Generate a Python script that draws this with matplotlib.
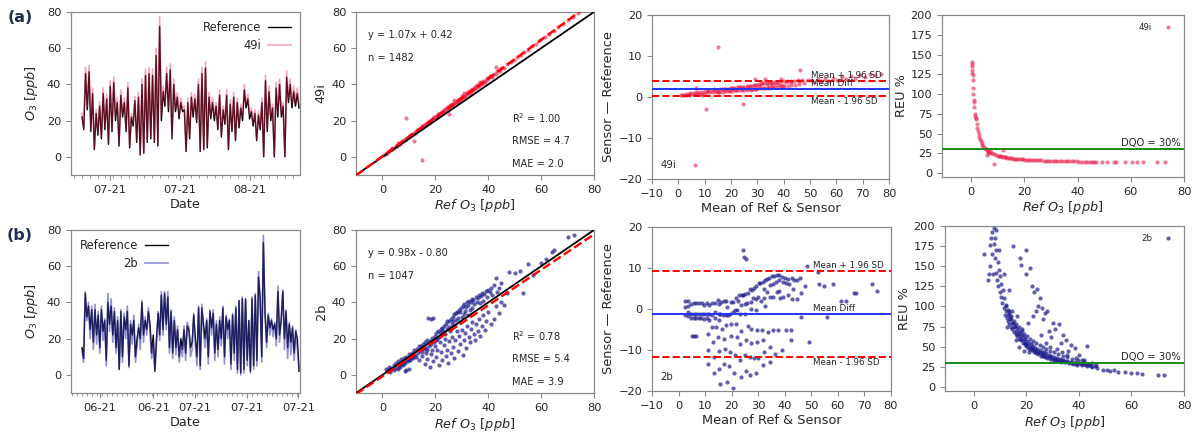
import numpy as np
import matplotlib
matplotlib.use("Agg")
import matplotlib.pyplot as plt
from matplotlib.ticker import MultipleLocator

plt.rcParams['font.family'] = ['DejaVu Sans']

# ---------------- DATA ----------------
# time series (a): Reference vs 49i, two samples per day
ts_a_ref = [22, 15, 46, 26, 47, 14, 35, 4, 24, 12,
            28, 10, 35, 15, 32, 7, 39, 14, 41, 20,
            30, 6, 34, 22, 30, 14, 38, 5, 22, 17,
            31, 8, 33, 1, 40, 2, 45, 8, 46, 10,
            45, 8, 56, 6, 72, 20, 36, 28, 46, 25,
            48, 10, 40, 25, 33, 21, 30, 25, 26, 3,
            30, 10, 33, 22, 32, 19, 40, 3, 46, 4,
            49, 5, 33, 21, 30, 20, 28, 15, 34, 11,
            26, 18, 34, 4, 29, 14, 33, 9, 30, 16,
            27, 20, 37, 27, 32, 21, 25, 17, 24, 9,
            23, 15, 30, 0, 42, 14, 36, 20, 27, 0,
            38, 22, 40, 22, 28, 0, 44, 30, 40, 27,
            36, 28, 35, 27]
ts_a_sens = [24, 16.5, 49.5, 28, 50.5, 15.5, 38, 4.5, 26, 13,
             30.5, 11, 38, 16.5, 34.5, 8, 42, 15.5, 44, 22,
             32.5, 7, 37, 24, 32.5, 15, 41, 6, 24, 18.5,
             33.5, 9, 35.5, 1.5, 43, 2.5, 48.5, 9, 49.5, 11,
             48.5, 9, 60, 7, 77.5, 22, 39, 30, 49.5, 27,
             51.5, 11, 43, 27, 35.5, 23, 32.5, 27, 28, 3.5,
             32.5, 11, 35.5, 24, 34.5, 20.5, 43, 3.5, 49.5, 4.5,
             52.5, 6, 35.5, 23, 32.5, 22, 30, 16.5, 37, 12,
             28, 19.5, 37, 4.5, 31.5, 15.5, 35.5, 10, 32.5, 17.5,
             29, 22, 40, 29, 34.5, 23, 27, 18.5, 26, 10,
             25, 16.5, 32.5, 0.5, 45, 15.5, 39, 22, 29, 0.5,
             41, 24, 43, 24, 30, 0.5, 47.5, 32.5, 43, 29,
             39, 30, 38, 29]
ts_a_ticklabels = ["07-21", "07-21", "08-21"]

# time series (b): Reference vs 2b
ts_b_ref = [15, 9, 45, 32, 38, 25, 36, 18, 36, 22,
            33, 15, 36, 24, 30, 8, 40, 28, 38, 22,
            35, 15, 30, 3, 35, 10, 32, 25, 35, 5,
            28, 22, 30, 10, 20, 26, 20, 40, 22, 30,
            25, 35, 28, 12, 22, 2, 20, 34, 22, 44,
            25, 45, 28, 43, 15, 35, 12, 30, 15, 25,
            10, 20, 14, 25, 12, 27,
            25, 15, 18, 33, 20, 10, 37, 5, 37, 28,
            20, 30, 10, 35, 26, 34, 12, 28, 14, 30,
            20, 37, 10, 32, 25, 30, 6, 33, 12, 37,
            3, 41, 1, 42, 3, 42, 8, 30, 2, 42,
            5, 44, 8, 54, 42, 10, 73, 35, 18, 33,
            26, 30, 25, 28, 20, 46, 22, 30, 46, 20,
            35, 15, 28, 18, 26, 12, 24, 20, 2]
ts_b_sens = [13, 7, 46, 30, 40, 20, 38, 14, 39, 17,
             35, 12, 38, 19, 31, 5, 45, 24, 42, 18,
             37, 12, 32, 3, 36, 7, 34, 20, 38, 4,
             30, 17, 33, 7, 16, 28, 14, 41, 18, 32,
             22, 37, 24, 9, 18, 2, 17, 35, 19, 46,
             22, 46, 25, 46, 12, 36, 9, 32, 11, 27,
             7, 17, 10, 27, 8, 29,
             26, 10, 14, 34, 16, 5, 38, 3, 39, 24,
             15, 31, 6, 36, 22, 36, 8, 30, 10, 32,
             16, 38, 6, 33, 20, 31, 3, 34, 8, 38,
             1, 41, 0, 43, 1, 42, 5, 30, 1, 43,
             3, 45, 5, 57, 43, 7, 77, 34, 15, 34,
             22, 31, 21, 29, 16, 49, 18, 31, 47, 14,
             36, 9, 29, 11, 27, 8, 25, 14, 4]
ts_b_ticklabels = ["06-21", "06-21", "07-21", "07-21", "07-21"]

# scatter (a): reference vs 49i
sc_a_ref = [0.6, 1.2, 1.9, 2.4, 3.1, 3.8, 4.3, 5.0, 5.5, 6.2, 6.8, 7.3, 7.9, 8.4, 9.0, 9.6,
            10.1, 10.7, 11.2, 11.8, 12.3, 12.9, 13.4, 13.8, 14.3, 14.9, 15.3, 15.8, 16.2,
            16.7, 17.1, 17.6, 18.0, 18.4, 18.9, 19.3, 19.8, 20.2, 20.6, 21.1, 21.5, 21.9,
            22.4, 22.8, 23.2, 23.7, 24.1, 24.6, 25.0, 25.5, 25.9, 26.4, 26.8, 27.3, 27.7,
            28.2, 28.6, 29.1, 29.6, 30.0, 30.5, 31.0, 31.4, 31.9, 32.4, 32.9, 33.3, 33.8,
            34.3, 34.9, 35.4, 35.9, 36.5, 37.0, 37.6, 38.2, 38.8, 39.4, 40.1, 40.7, 41.4,
            42.0, 42.8, 43.5, 44.3, 45.0, 46.0, 47.2, 48.5, 49.8, 51.0, 52.3, 53.5, 55.0,
            56.4, 58.0, 59.7, 61.5, 63.0, 64.8, 66.5, 68.2, 70.0, 72.0, 74.0,
            10.4, 12.6, 14.6, 16.4, 18.2, 19.6, 20.9, 22.1, 23.4, 24.8, 25.7, 26.6, 27.5,
            28.4, 29.3, 30.2, 31.2, 32.1, 33.0, 33.6, 34.6, 35.1, 36.2, 37.3, 38.5, 39.0,
            41.0, 44.0, 5.8, 6.5, 3.5, 8.7, 25.3, 9.0, 12.0, 14.8, 43.0, 27.0, 30.8, 36.8]
sc_a_sens = [1.1, 1.8, 2.3, 3.1, 3.6, 4.7, 4.9, 6.0, 6.2, 7.3, 7.5, 8.5, 8.7, 9.7, 9.8, 11.0,
             11.1, 12.2, 12.3, 13.4, 13.4, 14.6, 14.6, 15.5, 15.6, 16.8, 16.6, 17.7, 17.5,
             18.6, 18.5, 19.6, 19.5, 20.5, 20.4, 21.5, 21.3, 22.4, 22.2, 23.5, 23.2, 24.3,
             24.1, 25.3, 24.9, 26.2, 25.9, 27.3, 26.8, 28.2, 27.8, 29.2, 28.8, 30.2, 29.7,
             31.1, 30.6, 32.2, 31.7, 33.1, 32.6, 34.3, 33.6, 35.2, 34.7, 36.4, 35.6, 37.3,
             36.7, 38.5, 37.8, 39.6, 39.0, 40.8, 40.2, 42.0, 41.5, 43.3, 42.9, 44.7, 44.3,
             46.0, 45.8, 47.6, 47.4, 49.2, 49.3, 51.3, 52.6, 53.4, 55.3, 56.1, 58.0, 59.0,
             61.0, 62.2, 64.6, 66.0, 68.1, 69.5, 71.8, 73.2, 75.6, 77.3, 79.7,
             11.9, 14.5, 15.9, 18.3, 20.0, 21.9, 22.6, 24.5, 25.7, 27.0, 28.5, 28.4, 30.4,
             30.3, 31.9, 33.5, 33.5, 35.3, 35.5, 36.9, 37.4, 38.6, 39.3, 40.3, 41.2, 42.6,
             44.6, 47.9, 7.9, 7.2, 4.3, 9.2, 23.5, 21.3, 9.0, -1.8, 49.5, 31.5, 35.2, 41.1]
fit_a = (1.07, 0.42)
stats_a = ["y = 1.07x + 0.42", "n = 1482", "R$^2$ = 1.00", "RMSE = 4.7", "MAE = 2.0"]

# scatter (b): reference vs 2b
sc_b_ref = [1.5, 2, 2.5, 3, 3.2, 3.8, 4.2, 4.5, 5, 5.3, 5.8, 6, 6.3, 6.8, 7, 7.3, 7.8, 8, 8.2,
            8.6, 9, 9.3, 9.7, 10, 10.3, 10.6, 11, 11.3, 11.7, 12, 12.3, 12.6, 9, 10, 8.5,
            13, 13.4, 13.8, 14.2, 14.5, 14.9, 15.2, 15.6, 16, 16.3, 16.7, 17, 17.2, 17.5,
            17.9, 18.2, 18.5, 18.8, 19.2, 19.5,
            19.8, 20.1, 20.4, 20.7, 21, 21.3, 21.6, 22, 22.3, 22.6, 23, 23.3, 23.6, 24, 24.3,
            24.6, 25, 25.3, 25.6, 25.9,
            26.2, 26.5, 26.8, 27.1, 27.4, 27.7, 28, 28.3, 28.6, 28.9, 29.2, 29.5, 29.8, 30.1,
            30.4, 30.7, 31, 31.3, 31.6, 31.9,
            32.2, 32.5, 32.8, 33.1, 33.4, 33.7, 34, 34.4, 34.8, 35.2, 35.6, 36, 36.4, 36.8,
            37.2, 37.6, 38, 38.5, 39, 39.5, 40, 40.5, 41, 41.5, 42, 43, 43.5, 44,
            14, 15, 16, 16.5, 17, 17.8, 18.3, 18.8, 19.3, 19.8, 20.3, 20.8, 21.2, 21.7, 22.2,
            22.7, 23.1, 23.6, 24, 24.4, 24.9, 25.3, 25.8, 26.3, 26.7, 27.2, 27.6, 28.1, 28.5,
            29, 29.4, 29.9, 30.3, 30.8, 31.2, 31.7, 32.1, 32.6, 33, 33.5, 34, 34.5, 35, 35.5,
            36, 36.5, 37, 37.5, 38, 38.6, 39.2, 40, 41, 42, 43, 44, 45, 46,
            45, 47, 48, 50, 52, 53, 55, 57, 60, 62, 64, 65, 70, 72.5]
sc_b_sens = [3.5, 2.5, 4.5, 1.5, 4.0, 3.0, 5.5, 2.8, 6.5, 4.0, 3.5, 7.5, 5.0, 4.5, 8.5, 6.0,
             5.5, 9.5, 7.0, 6.5, 10.0, 8.0, 7.5, 11.5, 9.0, 8.2, 12.0, 10.0, 9.5, 13.5, 11.0,
             10.0, 2.5, 3.5, 2.0,
             14.5, 12.0, 16.0, 13.5, 15.8, 12.8, 17.0, 14.5, 18.0, 15.0, 14.0, 19.0, 31.5,
             16.0, 18.5, 31.0, 17.0, 20.5, 31.5, 18.0,
             21.5, 19.0, 23.0, 20.0, 24.5, 21.0, 23.5, 25.5, 22.0, 26.0, 24.0, 27.0, 22.5,
             28.0, 25.5, 29.5, 26.5, 30.0, 24.5, 31.0,
             28.0, 32.0, 29.5, 33.5, 27.5, 34.0, 30.5, 35.0, 31.5, 36.0, 29.0, 34.5, 37.0,
             32.0, 38.0, 33.5, 39.0, 35.5, 37.5, 40.0,
             33.0, 38.5, 41.0, 36.0, 40.0, 42.0, 37.0, 41.5, 39.0, 43.0, 40.0, 42.5, 44.0,
             39.5, 43.5, 45.0, 41.0, 44.5, 46.5, 43.0, 47.0, 45.5, 48.0, 44.0, 49.5, 53.5,
             46.0, 48.0,
             8.0, 10.5, 6.0, 12.0, 9.0, 4.5, 11.5, 14.0, 7.5, 16.0, 10.0, 13.5, 5.5, 18.0,
             12.5, 8.0, 16.5, 20.0, 10.5, 14.0, 6.5, 18.5, 12.0, 21.0, 15.5, 9.5, 19.0, 24.0,
             13.0, 21.5, 17.0, 25.0, 11.0, 19.5, 23.0, 15.0, 27.0, 21.0, 18.0, 25.5, 29.0,
             22.5, 19.0, 28.0, 24.0, 31.0, 21.5, 27.0, 33.0, 25.0, 30.0, 35.0, 28.0, 31.0,
             38.0, 34.0, 40.0, 38.5,
             50.5, 45.0, 57.0, 56.0, 57.5, 45.0, 61.0, 55.0, 62.0, 64.0, 68.0, 69.0, 76.0, 77.0]
fit_b = (0.98, -0.80)
stats_b = ["y = 0.98x - 0.80", "n = 1047", "R$^2$ = 0.78", "RMSE = 5.4", "MAE = 3.9"]

# Bland-Altman limits: lower (mean-1.96SD), mean diff, upper (mean+1.96SD)
ba_a_limits = [0.3, 2.0, 3.9]
ba_b_limits = [-11.6, -1.2, 9.3]

# REU (a)
reu_a_ref = [0.2, 0.3, 0.3, 0.4, 0.4, 0.5, 0.6, 0.7, 0.8, 0.9, 1.0, 1.2, 1.4, 1.5, 1.7, 1.9,
             2.1, 2.3, 2.5, 2.8, 3.0, 3.3, 3.6, 3.9, 4.2, 4.6, 5.0, 5.4, 5.8, 6.3, 6.8, 7.3,
             7.9, 8.5, 9.2, 10.0, 10.8, 11.7, 12.6, 13.6, 14.7, 15.8, 17.0, 18.3, 19.6, 21.0,
             22.5, 24.0, 25.6, 27.2, 28.9, 30.6, 32.4, 34.2, 36.0, 37.9, 39.8, 41.7, 43.6,
             45.5, 47.0, 49.0, 51.0, 53.5, 54.5, 58.0, 60.5, 62.5, 64.5, 69.8, 72.7,
             8.6, 12.0, 5.8, 7.0, 6.2,
             10.4, 11.2, 12.2, 13.1, 14.1, 15.2, 16.4, 17.6, 18.9, 20.3, 21.7, 23.2, 24.8,
             26.4, 28.0, 29.7, 31.5, 33.3, 35.1, 36.9, 38.8, 40.7, 42.6, 44.5, 46.2]
reu_a_val = [140, 138, 136, 130, 127, 124, 118, 108, 100, 93, 90, 84, 75, 72, 70, 68,
             62, 57, 53, 49, 46, 43, 40, 38, 36, 34, 32, 30.5, 29, 28, 27, 26,
             25, 24, 23, 22, 21.3, 20.6, 20, 19.4, 18.9, 18.4, 18, 17.6, 17.2, 16.9,
             16.6, 16.3, 16.0, 15.8, 15.6, 15.4, 15.2, 15.1, 14.9, 14.8, 14.7, 14.6, 14.5,
             14.4, 14.3, 14.3, 14.2, 14.2, 14.1, 14.1, 14.0, 14.0, 14.0, 13.9, 13.9,
             11, 29, 23, 28, 26,
             21.8, 21.0, 20.2, 19.8, 19.1, 18.7, 18.2, 17.9, 17.5, 17.0, 16.8, 16.4, 16.2,
             15.9, 15.8, 15.5, 15.3, 15.2, 15.0, 14.9, 14.8, 14.6, 14.5, 14.5, 14.3]

# REU (b)
reu_b_ref = [5.5, 5.8, 6, 6.2, 6.5, 6.8, 7, 7.2, 7.5, 7.8, 8, 8, 8.3, 8.5, 8.8, 9, 9.2, 9.5,
             9.8, 10, 10.3, 10.5, 10.8, 11, 11.3, 11.6, 12, 12.2, 12.5, 12.8, 13, 13.2, 13.5,
             13.8, 14, 14.3, 14.6, 15, 15.3, 15.6, 16, 16.3, 16.6, 17, 17.3, 17.6, 18, 18.3,
             18.6, 19, 19.3, 19.6, 20, 20.3, 20.7, 21, 21.4, 21.8, 22.2, 22.6, 23, 23.4, 23.8,
             24.2, 24.6, 25, 25.4, 25.8, 26.2, 26.6, 27, 27.5, 28, 28.5, 29, 29.5, 30, 30.5,
             31, 31.5, 32, 32.7, 33.3, 34, 34.7, 35.5, 36.2, 37, 37.8, 38.6, 39.4, 40.2, 41,
             42, 43, 44, 45, 46, 47,
             49, 50.5, 52, 53.5, 55, 57.5, 60, 62, 64, 70, 72.5,
             4, 15, 17.5, 18, 19.8, 20, 21.3, 22, 23, 24, 24.5, 25, 26, 27, 28, 22.5, 23.5,
             26.5, 30, 31, 32.5, 34, 35, 37, 38.5, 43, 28.5, 29.5, 33, 36, 40, 45, 42, 16,
             17, 19, 21, 22, 18.5, 20.5, 25.5, 27.5, 29, 31.5, 33.5, 35.5, 39, 41, 44, 46.5,
             12.5, 14.5, 16.5, 13.5, 11.5, 9.5, 8.5,
             12.1, 12.9, 13.6, 14.4, 15.1, 15.9, 16.7, 17.4, 18.1, 18.9, 19.7, 20.4, 21.2,
             22, 22.8, 23.6, 24.4, 25.2, 26, 26.8, 27.8, 28.8, 29.8, 30.8, 31.8, 33, 34.3,
             35.8, 37.3, 39, 40.7, 42.5, 44.5,
             12.4, 13.3, 14.1, 15.4, 16.2, 17.2, 18.2, 19.2, 20.2, 21.5, 22.6, 23.8, 25,
             26.3, 27.6, 29, 30.5, 32, 33.8, 35.5, 37.5, 39.8, 42]
reu_b_val = [133, 140, 176, 150, 185, 165, 192, 140, 178, 198, 160, 185, 142, 170, 133, 155,
             125, 145, 118, 138, 112, 128, 104, 120, 98, 110, 90, 102, 86, 96, 82, 92, 78,
             88, 74, 84, 72, 80, 68, 76, 66, 73, 63, 70, 60, 67, 58, 64, 55, 62, 53, 59, 51,
             57, 49, 55, 47, 53, 46, 51, 44, 49, 42, 47, 41, 46, 39, 44, 38, 43, 37, 42, 36,
             40, 35, 39, 34, 37, 33, 36, 32.5, 35, 31.5, 33.5, 30.5, 32.5, 29.5, 31.5, 28.5,
             30.5, 27.5, 29.5, 27, 28.5, 26, 27, 24.5, 26, 23,
             20.5, 20.5, 20, 21, 19, 18, 17.5, 17, 16.5, 15.5, 15.2,
             165, 175, 160, 152, 170, 140, 148, 125, 118, 122, 100, 110, 98, 92, 95, 88, 95,
             85, 80, 72, 78, 65, 58, 52, 48, 51, 70, 62, 55, 45, 40, 30, 34, 58, 50, 45, 43,
             48, 72, 80, 65, 55, 50, 47, 44, 40, 36, 33, 29, 27.5,
             75, 95, 88, 120, 140, 170, 195,
             95, 89, 84, 79, 74, 70, 66, 63, 60, 57, 54, 52, 50, 48.5, 46.5, 45, 43.5, 42,
             40.5, 39.5, 38.5, 37, 36, 35, 34, 33, 32, 31, 30, 29, 28, 27, 26,
             100, 95, 88, 82, 78, 74, 70, 66, 63, 60, 57, 55, 52, 50, 47, 45, 43, 41, 39, 37,
             35, 33, 31]
dqo_level = 30

# ---------------- STYLE ----------------
W, H = 1201, 436
fig = plt.figure(figsize=(W / 100, H / 100), dpi=100)

SPINE = '#8a8a8a'
TXT = '#262626'
TICK_FS = 8.2
LAB_FS = 9.3
RED = '#e8234f'
NAVY = '#1c1c8c'
MS = 9


def box(l, r, t, b):
    return fig.add_axes([l / W, 1 - b / H, (r - l) / W, (b - t) / H])


def style(ax):
    for s in ax.spines.values():
        s.set_color(SPINE)
        s.set_linewidth(0.9)
    ax.tick_params(colors=SPINE, labelcolor=TXT, labelsize=TICK_FS, length=3.5, width=0.8)
    ax.tick_params(which='minor', colors=SPINE, length=2, width=0.6)


def ts_panel(ax, ref, sens, name, color, alpha, ticks_px, labels, minor_px, legloc):
    ref = np.asarray(ref, float)
    sens = np.asarray(sens, float)
    idx = np.arange(len(ref))
    # map pixels of original layout (data from 82 px to 299 px) into sample index
    per = 217.0 / (len(ref) - 1)
    ax.plot(idx, ref, color='black', lw=1.0, label='Reference', zorder=2)
    ax.plot(idx, sens, color=color, alpha=alpha, lw=1.2, label=name, zorder=3)
    ax.set_xlim((71 - 82) / per, (300 - 82) / per)
    ax.set_ylim(-10, 80)
    ax.set_yticks([0, 20, 40, 60, 80])
    ax.set_xticks([(p - 82) / per for p in ticks_px])
    ax.set_xticklabels(labels)
    ax.xaxis.set_minor_locator(MultipleLocator(minor_px / per))
    ax.set_xlabel('Date', fontsize=LAB_FS, color=TXT, labelpad=2)
    ax.set_ylabel(r'$O_3$ [$ppb$]', fontsize=LAB_FS, color=TXT, labelpad=5)
    style(ax)
    leg = ax.legend(loc=legloc, frameon=False, markerfirst=False, fontsize=8.3,
                    handlelength=2.0, handletextpad=0.6, labelspacing=0.45,
                    borderaxespad=0.35)
    for t in leg.get_texts():
        t.set_color(TXT)


def sc_panel(ax, x, y, fit, stats, name, color, alpha):
    ax.scatter(x, y, s=MS, color=color, alpha=alpha, lw=0, zorder=2)
    xs = np.array([-10, 80])
    ax.plot(xs, xs, color='black', lw=1.3, zorder=3)
    ax.plot(xs, fit[0] * xs + fit[1], color='red', lw=1.7, ls='--', zorder=4)
    ax.set_xlim(-10, 80)
    ax.set_ylim(-10, 80)
    ax.set_xticks([0, 20, 40, 60, 80])
    ax.set_yticks([0, 20, 40, 60, 80])
    ax.set_xlabel(r'$Ref\ O_3$ [$ppb$]', fontsize=LAB_FS, color=TXT, labelpad=2)
    ax.set_ylabel(name, fontsize=LAB_FS, color=TXT, labelpad=3)
    kw = dict(transform=ax.transAxes, fontsize=7.1, color=TXT, va='center', ha='left')
    ax.text(0.05, 0.86, stats[0], **kw)
    ax.text(0.05, 0.72, stats[1], **kw)
    ax.text(0.655, 0.35, stats[2], **kw)
    ax.text(0.655, 0.21, stats[3], **kw)
    ax.text(0.655, 0.07, stats[4], **kw)
    style(ax)


def ba_panel(ax, x, y, limits, name, color, alpha):
    x = np.asarray(x, float)
    y = np.asarray(y, float)
    mean = (x + y) / 2
    diff = y - x
    ax.scatter(mean, diff, s=MS, color=color, alpha=alpha, lw=0, zorder=2)
    lo, md, hi = limits
    ax.axhline(hi, color='red', ls='--', lw=1.4, zorder=3)
    ax.axhline(md, color='#2233ff', lw=1.4, zorder=3)
    ax.axhline(lo, color='red', ls='--', lw=1.4, zorder=3)
    kw = dict(fontsize=6.3, color=TXT, ha='left')
    ax.text(50.5, hi + 0.3, 'Mean + 1.96 SD', va='bottom', **kw)
    ax.text(50.5, md + 0.3, 'Mean Diff', va='bottom', **kw)
    ax.text(50.5, lo - 0.3, 'Mean - 1.96 SD', va='top', **kw)
    ax.text(-6.8, -16.5, name, fontsize=7.3, color=TXT, va='center', ha='left')
    ax.set_xlim(-10, 80)
    ax.set_ylim(-20, 20)
    ax.set_xticks(np.arange(-10, 81, 10))
    ax.set_yticks([-20, -10, 0, 10, 20])
    ax.set_xlabel('Mean of Ref & Sensor', fontsize=LAB_FS, color=TXT, labelpad=2)
    ax.set_ylabel('Sensor \u2014 Reference', fontsize=LAB_FS, color=TXT, labelpad=2)
    style(ax)


def reu_panel(ax, x, y, name, color, alpha):
    ax.scatter(x, y, s=MS, color=color, alpha=alpha, lw=0, zorder=2, label=name)
    ax.axhline(dqo_level, color='#1a8a1a', lw=1.4, zorder=3)
    ax.text(0.985, (dqo_level + 1.5 + 5) / 205, 'DQO = 30%', transform=ax.transAxes,
            fontsize=7.2, color=TXT, ha='right', va='bottom')
    ax.set_xlim(-11, 80)
    ax.set_ylim(-5, 200)
    ax.set_xticks([0, 20, 40, 60, 80])
    ax.set_yticks(np.arange(0, 201, 25))
    ax.set_xlabel(r'$Ref\ O_3$ [$ppb$]', fontsize=LAB_FS, color=TXT, labelpad=2)
    ax.set_ylabel('REU %', fontsize=LAB_FS, color=TXT, labelpad=2)
    style(ax)
    leg = ax.legend(loc='upper right', frameon=False, markerfirst=False, fontsize=6.2,
                    handletextpad=0.8, borderaxespad=0.5, markerscale=1.0)
    for t in leg.get_texts():
        t.set_color(TXT)


# ---------------- ROW (a) ----------------
ax = box(71, 300, 12, 175)
ts_panel(ax, ts_a_ref, ts_a_sens, '49i', RED, 0.4, [110, 180, 250], ts_a_ticklabels,
         7.8, 'upper right')
ax = box(356, 594, 12, 175)
sc_panel(ax, sc_a_ref, sc_a_sens, fit_a, stats_a, '49i', RED, 0.6)
ax = box(652, 889, 15, 179)
ba_panel(ax, sc_a_ref, sc_a_sens, ba_a_limits, '49i', RED, 0.6)
ax = box(942, 1184, 15, 177)
reu_panel(ax, reu_a_ref, reu_a_val, '49i', RED, 0.6)

# ---------------- ROW (b) ----------------
ax = box(71, 300, 230, 393)
ts_panel(ax, ts_b_ref, ts_b_sens, '2b', '#3535b0', 0.55, [100, 153.3, 195, 246.7, 298.3],
         ts_b_ticklabels, 5.0, 'upper left')
ax = box(356, 594, 230, 393)
sc_panel(ax, sc_b_ref, sc_b_sens, fit_b, stats_b, '2b', NAVY, 0.7)
ax = box(652, 891, 227, 391)
ba_panel(ax, sc_b_ref, sc_b_sens, ba_b_limits, '2b', NAVY, 0.7)
ax = box(945, 1184, 226, 391)
reu_panel(ax, reu_b_ref, reu_b_val, '2b', NAVY, 0.7)

fig.text(20 / W, 1 - 17 / H, '(a)', fontsize=11.5, fontweight='bold', color='#1f2d50',
         ha='center', va='center')
fig.text(20 / W, 1 - 235 / H, '(b)', fontsize=11.5, fontweight='bold', color='#1f2d50',
         ha='center', va='center')

fig.savefig('out.png', dpi=100)
